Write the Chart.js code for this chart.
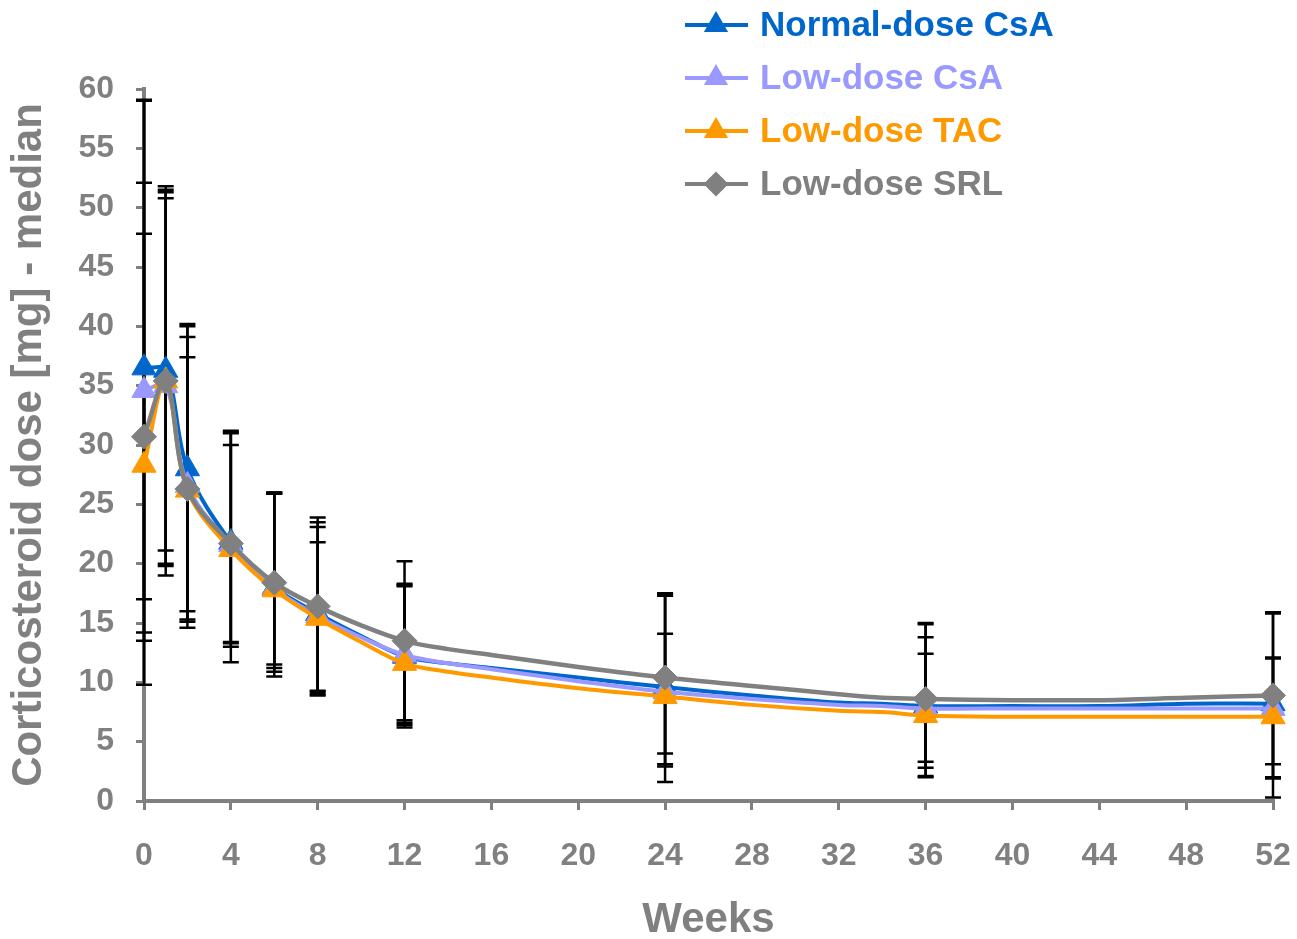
<!DOCTYPE html>
<html>
<head>
<meta charset="utf-8">
<script src="https://cdn.jsdelivr.net/npm/chart.js@4.4.1/dist/chart.umd.min.js"></script>
<style>
  body { margin: 0; background: #fff; }
  #wrap { width: 1297px; height: 939px; position: relative; }
</style>
</head>
<body>
<div id="wrap"><canvas id="chart"></canvas></div>
<script>
// Donnees
const weeks = [0, 1, 2, 4, 6, 8, 10, 12, 14, 16, 20, 24, 28, 32, 34, 36, 40, 44, 48, 52];
const markerWeeks = [0, 1, 2, 4, 6, 8, 12, 24, 36, 52];
const xTicks = [0, 4, 8, 12, 16, 20, 24, 28, 32, 36, 40, 44, 48, 52];

const normalCsA = [36.5, 36.3, 28.0, 21.8, 18.0, 15.8, 13.9, 12.2, 11.6, 11.2, 10.4, 9.6, 8.9, 8.3, 8.2, 8.0, 8.0, 8.0, 8.2, 8.2];
const lowCsA    = [34.6, 35.0, 26.6, 21.6, 17.9, 15.6, 13.8, 12.3, 11.6, 11.1, 10.1, 9.2, 8.6, 8.1, 8.0, 7.8, 7.8, 7.8, 7.8, 7.8];
const lowTAC    = [28.3, 35.4, 26.2, 21.2, 17.8, 15.4, 13.4, 11.6, 10.9, 10.4, 9.5, 8.8, 8.1, 7.6, 7.5, 7.2, 7.1, 7.1, 7.1, 7.1];
const lowSRL    = [30.7, 35.4, 26.3, 21.7, 18.4, 16.4, 14.8, 13.5, 12.8, 12.3, 11.3, 10.4, 9.7, 9.0, 8.7, 8.6, 8.5, 8.5, 8.7, 8.9];

// Barres d'erreur (haut / bas) aux semaines avec marqueur
const normalCsAHi = [59.1, 51.8, 40.2, 31.2, 26.0, 23.9, 20.2, 17.5, 15.0, 15.9];
const normalCsALo = [17.0, 21.1, 16.0, 13.4, 11.5, 9.3, 6.8, 4.0, 3.3, 3.1];
const lowCsAHi    = [52.1, 51.5, 40.0, 31.0, 25.9, 23.1, 18.3, 17.4, 13.8, 12.0];
const lowCsALo    = [14.2, 20.0, 15.3, 13.0, 11.2, 9.2, 6.6, 3.1, 2.8, 2.0];
const lowTACHi    = [47.8, 51.3, 39.1, 31.1, 26.0, 21.8, 18.2, 14.1, 12.4, 15.8];
const lowTACLo    = [13.5, 19.8, 15.1, 13.3, 10.9, 8.9, 6.4, 2.9, 2.0, 1.9];
const lowSRLHi    = [59.0, 50.8, 37.4, 30.0, 25.9, 23.5, 18.1, 17.3, 14.9, 12.1];
const lowSRLLo    = [9.8, 19.0, 14.6, 11.7, 10.5, 9.0, 6.2, 1.6, 2.1, 0.3];

const seriesNames = ["Normal-dose CsA", "Low-dose CsA", "Low-dose TAC", "Low-dose SRL"];
const seriesColors = ["#0066CC", "#9999FF", "#FF9900", "#808080"];
const seriesStyles = ["triangle", "triangle", "triangle", "rectRot"];

const FONT = "'Liberation Sans', Arial, sans-serif";
const GREY = "#808080";

function pts(values) {
    return weeks.map((w, i) => ({ x: w, y: values[i] }));
}
function radii(r) {
    return weeks.map(w => markerWeeks.includes(w) ? r : 0);
}

const allValues = [normalCsA, lowCsA, lowTAC, lowSRL];
const allHi = [normalCsAHi, lowCsAHi, lowTACHi, lowSRLHi];
const allLo = [normalCsALo, lowCsALo, lowTACLo, lowSRLLo];

const datasets = allValues.map((v, k) => ({
    label: seriesNames[k],
    data: pts(v),
    borderColor: seriesColors[k],
    backgroundColor: seriesColors[k],
    pointBackgroundColor: seriesColors[k],
    pointBorderColor: seriesColors[k],
    pointBorderWidth: 1,
    pointStyle: seriesStyles[k],
    pointRadius: radii(seriesStyles[k] === "rectRot" ? 12.5 : 14),
    borderWidth: k === 3 ? 4.5 : 4,
    tension: 0.35,
    clip: false,
    order: 4 - k
}));

// Barres d'erreur dessinees avant les courbes
const errorBars = {
    id: "errorBars",
    beforeDatasetsDraw(chart) {
        const ctx = chart.ctx;
        const xs = chart.scales.x, ys = chart.scales.y;
        ctx.save();
        ctx.strokeStyle = "#000";
        ctx.lineWidth = 2.5;
        for (let k = 0; k < 4; k++) {
            markerWeeks.forEach((w, i) => {
                const px = xs.getPixelForValue(w);
                const top = ys.getPixelForValue(allHi[k][i]);
                const bot = ys.getPixelForValue(allLo[k][i]);
                ctx.beginPath();
                ctx.moveTo(px, top); ctx.lineTo(px, bot);
                ctx.moveTo(px - 8, top); ctx.lineTo(px + 8, top);
                ctx.moveTo(px - 8, bot); ctx.lineTo(px + 8, bot);
                ctx.stroke();
            });
        }
        ctx.restore();
    }
};

// Legende dessinee a la main en haut a droite
const legendPlugin = {
    id: "customLegend",
    afterDraw(chart) {
        const ctx = chart.ctx;
        ctx.save();
        const rows = [25, 78, 131, 184];
        seriesNames.forEach((name, k) => {
            const y = rows[k];
            ctx.strokeStyle = seriesColors[k];
            ctx.fillStyle = seriesColors[k];
            ctx.lineWidth = 4;
            ctx.beginPath();
            ctx.moveTo(685, y); ctx.lineTo(748, y);
            ctx.stroke();
            const cx = 716;
            ctx.beginPath();
            if (seriesStyles[k] === "triangle") {
                const r = 14;
                ctx.moveTo(cx, y - r);
                ctx.lineTo(cx + r * 0.866, y + r * 0.5);
                ctx.lineTo(cx - r * 0.866, y + r * 0.5);
            } else {
                const r = 12.5;
                ctx.moveTo(cx - r, y); ctx.lineTo(cx, y - r);
                ctx.lineTo(cx + r, y); ctx.lineTo(cx, y + r);
            }
            ctx.closePath();
            ctx.fill();
            ctx.font = "bold 35px " + FONT;
            ctx.textBaseline = "middle";
            ctx.textAlign = "left";
            ctx.fillText(name, 760, y + 1);
        });
        ctx.restore();
    }
};

new Chart(document.getElementById("chart"), {
    type: "line",
    data: { datasets: datasets },
    options: {
        responsive: true,
        maintainAspectRatio: false,
        animation: false,
        layout: { padding: { top: 89, right: 24, left: 0, bottom: 0 } },
        plugins: {
            legend: { display: false },
            tooltip: { enabled: false }
        },
        scales: {
            x: {
                type: "linear",
                min: 0,
                max: 52,
                afterBuildTicks: (scale) => { scale.ticks = xTicks.map(v => ({ value: v })); },
                afterFit: (scale) => {
                    scale.height = 138;
                    scale.paddingLeft = 0;
                    scale.paddingRight = 0;
                },
                border: { display: true, color: GREY, width: 4 },
                grid: { drawOnChartArea: false, drawTicks: true, tickLength: 9, color: GREY, lineWidth: 3 },
                ticks: { color: GREY, font: { family: FONT, size: 32, weight: "bold" }, padding: 27, maxRotation: 0 },
                title: {
                    display: true, text: "Weeks", color: GREY,
                    font: { family: FONT, size: 42, weight: "bold", lineHeight: 0.9 },
                    padding: { top: 0, bottom: 0 }
                }
            },
            y: {
                min: 0,
                max: 60,
                ticks: { stepSize: 5, color: GREY, font: { family: FONT, size: 32, weight: "bold" }, padding: 22 },
                afterFit: (scale) => { scale.width = 144; },
                border: { display: true, color: GREY, width: 4 },
                grid: { drawOnChartArea: false, drawTicks: true, tickLength: 8, color: GREY, lineWidth: 3 },
                title: {
                    display: true, text: "Corticosteroid dose [mg] - median", color: GREY,
                    font: { family: FONT, size: 42, weight: "bold", lineHeight: 0.9 },
                    padding: { top: 11, bottom: 0 }
                }
            }
        }
    },
    plugins: [errorBars, legendPlugin]
});
</script>
</body>
</html>
